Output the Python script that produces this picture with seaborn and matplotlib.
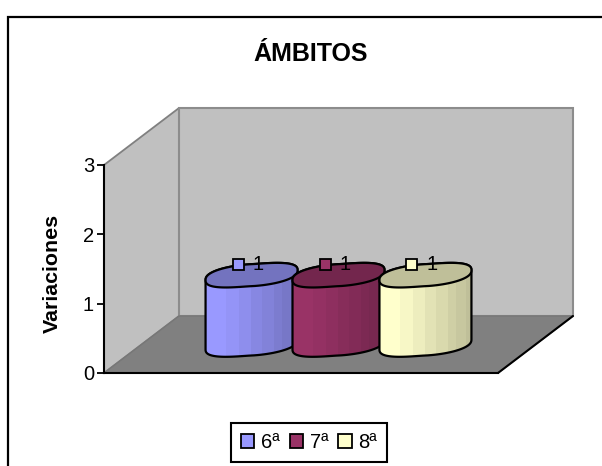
import numpy as np
import pandas as pd
import matplotlib
matplotlib.use("Agg")
import matplotlib.pyplot as plt
from matplotlib.lines import Line2D
from matplotlib.patches import Polygon, Rectangle, PathPatch
from matplotlib.path import Path
from matplotlib.transforms import ScaledTranslation
import seaborn as sns

# Chart data
category = ["Ámbitos"]
grades = ["6ª", "7ª", "8ª"]
variations = [1, 1, 1]
grade_colors = ["#9999FF", "#993366", "#FFFFCC"]
y_ticks = [0, 1, 2, 3]
chart_title = "ÁMBITOS"
y_title = "Variaciones"

# Cylinder shading: right edge of each facet (fraction of width) and its brightness
facet_edges = [0.22, 0.36, 0.49, 0.61, 0.74, 0.83, 0.94, 1.0]
facet_shades = [1.0, 0.97, 0.93, 0.885, 0.85, 0.81, 0.78, 0.75]

W, H = 602, 466
DPI = 100
sns.set_theme(style="white")
plt.rcParams["font.family"] = ["Liberation Sans", "DejaVu Sans"]

fig = plt.figure(figsize=(W / DPI, H / DPI), dpi=DPI, facecolor="white")

# Front plane of the plot box, in pixels
L, R, T, B = 104, 498, 165, 373
ax = fig.add_axes([L / W, 1 - B / H, (R - L) / W, (B - T) / H], facecolor="none")

frame = pd.DataFrame({"cat": category * 3, "grade": grades, "value": variations})
sns.barplot(data=frame, x="cat", y="value", hue="grade", palette=grade_colors,
            width=0.662, gap=0, dodge=True, saturation=1, ax=ax, legend=False, errorbar=None)
ax.set_xlim(-0.5, 0.5)
ax.set_ylim(0, 3)
ax.set_yticks(y_ticks)
ax.set_xticks([])
ax.set_xlabel("")
ax.tick_params(axis="y", labelsize=14.5, length=4.7, width=1.3, color="black",
               labelcolor="black", left=True, pad=2.5)
for side in ("top", "right"):
    ax.spines[side].set_visible(False)
for side in ("left", "bottom"):
    ax.spines[side].set_color("black")
    ax.spines[side].set_linewidth(1.5)
    ax.spines[side].set_zorder(6)

ax.set_ylabel(y_title, fontsize=15.4, fontweight="bold", color="black", va="center")
ax.yaxis.set_label_coords((52 - L) / (R - L), (B - 273) / (B - T))
ax.set_title(chart_title, fontsize=18, fontweight="bold", color="black", pad=0,
             x=(310.5 - L) / (R - L), y=(B - 54) / (B - T), va="center")

# Walls and floor of the box, receding up and to the right
DX, DY = 75 / (R - L), 57 / (B - T)
wall_kw = dict(transform=ax.transAxes, clip_on=False, zorder=0.5)
ax.add_patch(Polygon([(0, 0), (0, 1), (DX, 1 + DY), (DX, DY)], fc="#C0C0C0", ec="#808080", lw=1.3, **wall_kw))
ax.add_patch(Polygon([(DX, DY), (DX, 1 + DY), (1 + DX, 1 + DY), (1 + DX, DY)], fc="#C0C0C0", ec="#8C8C8C", lw=1.5, **wall_kw))
ax.add_patch(Polygon([(0, 0), (1, 0), (1 + DX, DY), (DX, DY)], fc="#808080", ec="#777777", lw=1.0, **wall_kw))
ax.add_line(Line2D([1, 1 + DX], [0, DY], color="black", lw=1.5, transform=ax.transAxes, clip_on=False, zorder=0.6))

# Bars sit halfway into the box
mid_shift = ax.transData + ScaledTranslation(37.5 / DPI, 28.5 / DPI, fig.dpi_scale_trans)
px_x = 1 / (R - L)
px_y = 3 / (B - T)
HALF_W, HALF_H, TILT = 46, 11.0, 5.0


def rim(t):
    """Slightly squared, tilted ellipse offsets in pixels."""
    c, s = np.cos(t), np.sin(t)
    return HALF_W * np.sign(c) * np.abs(c) ** 0.8, HALF_H * np.sign(s) * np.abs(s) ** 0.8 + TILT * c


def shaded(color, k):
    return tuple(k * v for v in matplotlib.colors.to_rgb(color))


bars = [b for b in ax.patches if isinstance(b, Rectangle) and b.get_width() < 0.5]
for n, (bar, color) in enumerate(zip(bars, grade_colors)):
    bar.set_visible(False)
    cx = bar.get_x() + bar.get_width() / 2
    top = bar.get_height()
    z = 2 + n

    # Side surface: lower half of the rim at the base, upper half at the top
    xl, yl = rim(np.linspace(np.pi, 2 * np.pi, 60))
    xu, yu = rim(np.linspace(0, np.pi, 60))
    verts = np.c_[np.r_[cx + xl * px_x, cx + xu * px_x], np.r_[yl * px_y, top + yu * px_y]]
    body = PathPatch(Path(np.r_[verts, verts[:1]], closed=True), fc="none", ec="none", transform=mid_shift, zorder=z)
    ax.add_patch(body)

    start = -HALF_W
    for edge, k in zip(facet_edges, facet_shades):
        stop = -HALF_W + 2 * HALF_W * edge
        strip = Rectangle((cx + start * px_x, -15 * px_y), (stop - start + 0.4) * px_x, top + 40 * px_y,
                          fc=shaded(color, k), ec="none", transform=mid_shift, zorder=z + 0.1)
        ax.add_patch(strip)
        strip.set_clip_path(body)
        start = stop

    outline = PathPatch(Path(np.r_[verts, verts[:1]], closed=True), fc="none", ec="black", lw=1.6,
                        joinstyle="round", transform=mid_shift, zorder=z + 0.2, clip_on=False)
    ax.add_patch(outline)

    # Top face
    xt, yt = rim(np.linspace(0, 2 * np.pi, 120))
    ax.add_patch(Polygon(np.c_[cx + xt * px_x, top + yt * px_y], closed=True, fc=shaded(color, 0.75),
                         ec="black", lw=1.6, transform=mid_shift, zorder=z + 0.3, clip_on=False))

    # Value label with its legend key
    ax.add_patch(Rectangle((cx - 19 * px_x, top + 5.5 * px_y), 11 * px_x, 11 * px_y, fc=color, ec="black",
                           lw=1.3, transform=mid_shift, zorder=10, clip_on=False))
    ax.text(cx + 6.5 * px_x, top + 10.5 * px_y, str(top if top % 1 else int(top)), fontsize=14.5, color="black",
            ha="center", va="center", transform=mid_shift, zorder=11)

# Legend
handles = [Rectangle((0, 0), 1, 1, fc=c, ec="black", lw=1.3) for c in grade_colors]
leg = fig.legend(handles, grades, ncol=3, loc="center", bbox_to_anchor=(309 / W, 1 - 442.5 / H),
                 fontsize=14.5, frameon=True, fancybox=False, edgecolor="black", framealpha=1,
                 handlelength=0.65, handleheight=0.65, handletextpad=0.35, columnspacing=0.5,
                 borderpad=0.5, borderaxespad=0)
leg.get_frame().set_linewidth(1.5)
for txt in leg.get_texts():
    txt.set_color("black")

# Outer frame: only its top and left edges fall inside the figure
fig.add_artist(Line2D([7.5 / W, 7.5 / W, 1], [0, 1 - 17 / H, 1 - 17 / H], color="black", lw=1.6,
                      transform=fig.transFigure, solid_joinstyle="miter"))

fig.savefig("out.png", dpi=DPI, facecolor="white")
